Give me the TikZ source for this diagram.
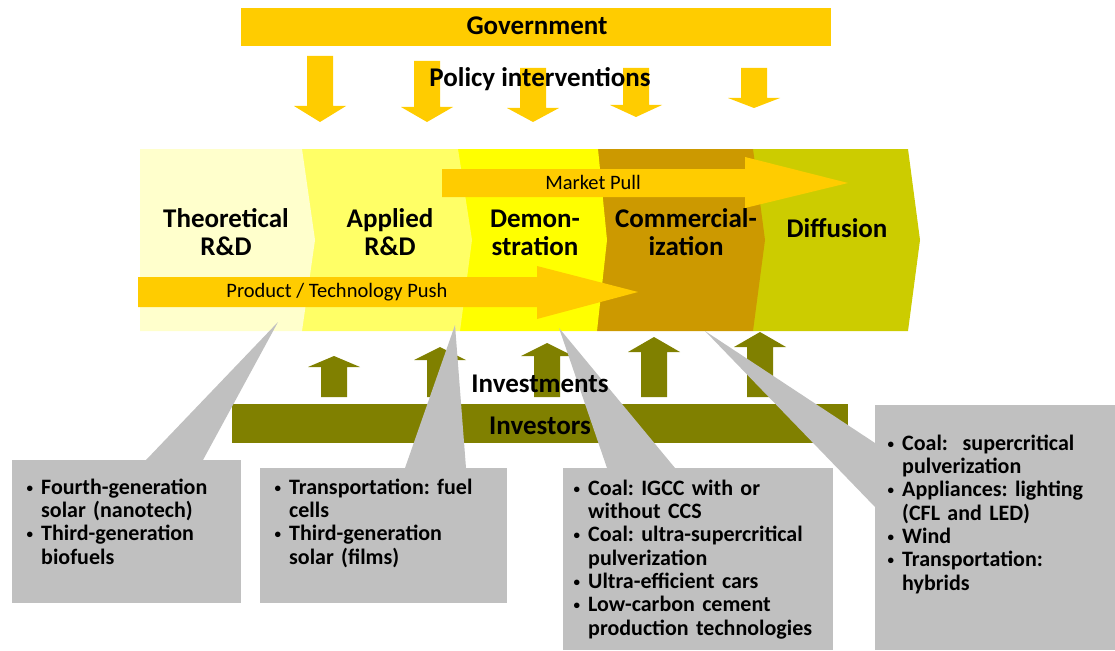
\documentclass[tikz,border=0pt]{standalone}
\usepackage{fontspec}
\setmainfont{Carlito}

\definecolor{govyellow}{HTML}{FFCC00}
\definecolor{investolive}{HTML}{808000}
\definecolor{calloutgrey}{HTML}{C0C0C0}
\definecolor{theocol}{HTML}{FFFFCC}
\definecolor{appliedcol}{HTML}{FFFF66}
\definecolor{democol}{HTML}{FFFF00}
\definecolor{commcol}{HTML}{CC9900}
\definecolor{diffcol}{HTML}{CCCC00}

\newcommand{\techdot}{\raisebox{2pt}{\fontsize{13}{13}\selectfont\textbullet}}
\newenvironment{techlist}{\frenchspacing\begin{list}{\techdot}{\setlength{\leftmargin}{15pt}%
  \setlength{\labelsep}{8pt}\setlength{\labelwidth}{7pt}\setlength{\itemsep}{0pt}%
  \setlength{\parsep}{0pt}\setlength{\topsep}{0pt}\setlength{\partopsep}{0pt}}}{\end{list}}

\begin{document}
\begin{tikzpicture}[x=1pt, y=-1pt,
    headtext/.style={font=\bfseries\fontsize{27}{28}\selectfont, inner sep=0pt, anchor=base},
    stagetext/.style={headtext, align=center},
    flowtext/.style={font=\fontsize{20.5}{22}\selectfont, inner sep=0pt, anchor=base},
    techs/.style={font=\bfseries\fontsize{22}{23.3}\selectfont, text width=270pt,
      align=left, inner sep=0pt, anchor=base west}]
  \useasboundingbox (0,0) rectangle (1115,650);
  % government and policy arrows
  \fill[govyellow] (241,8) rectangle (831,46);
  \node[headtext] (gov) at (537,35) {Government};
  \fill[govyellow] (307,56) |- (294,106) -- (320,122) -- (346,106) -| (333,56) -- cycle;
  \fill[govyellow] (414,61) |- (401,107) -- (427,122) -- (453,107) -| (440,61) -- cycle;
  \fill[govyellow] (520,68) |- (507,108) -- (533,122) -- (559,108) -| (546,68) -- cycle;
  \fill[govyellow] (623,68) |- (610,105) -- (636,117) -- (662,105) -| (649,68) -- cycle;
  \fill[govyellow] (741,68) |- (728,98) -- (754,108) -- (780,98) -| (767,68) -- cycle;
  \node[headtext] (policy) at (540,87) {Policy interventions};
  % stages
  \fill[diffcol] (753,149) -- (908,149) -- (920,240) -- (908,331) -- (753,331) -- cycle;
  \fill[commcol] (598,149) -- (753,149) -- (765,240) -- (753,331) -- (597,331) -- cycle;
  \fill[democol] (458,149) -- (598,149) -- (607,240) -- (597,331) -- (460,331) -- cycle;
  \fill[appliedcol] (302,149) -- (458,149) -- (472,240) -- (460,331) -- (302,331) -- cycle;
  \fill[theocol] (140,149) -- (302,149) -- (315,240) -- (302,331) -- (140,331) -- cycle;
  \fill[govyellow] (442,169) -- (745,169) -- (745,157) -- (848,183) -- (745,208) -- (745,197) -- (442,197) -- cycle;
  \node[flowtext] (pull) at (593,189) {Market Pull};
  \fill[govyellow] (138,277) -- (537,277) -- (537,266) -- (638,292) -- (537,319) -- (537,307) -- (138,307) -- cycle;
  \node[flowtext] (push) at (337,297) {Product / Technology Push};
  \node[stagetext] (theo) at (226,255) {Theoretical\\R\&D};
  \node[stagetext] (applied) at (390,255) {Applied\\R\&D};
  \node[stagetext] (demo) at (535,255) {Demon-\\stration};
  \node[stagetext] (comm) at (686,255) {Commercial-\\ization};
  \node[headtext] (diffusion) at (837,237) {Diffusion};
  % investments
  \fill[investolive] (321,397) |- (308,367) -- (334,356) -- (360,367) -| (347,397) -- cycle;
  \fill[investolive] (427,397) |- (414,360) -- (440,347) -- (466,360) -| (453,397) -- cycle;
  \fill[investolive] (534,397) |- (521,356) -- (547,343) -- (573,356) -| (560,397) -- cycle;
  \fill[investolive] (641,397) |- (628,352) -- (654,337) -- (680,352) -| (667,397) -- cycle;
  \fill[investolive] (747,397) |- (734,347) -- (760,332) -- (786,347) -| (773,397) -- cycle;
  \fill[investolive] (232,404) rectangle (848,443);
  % callouts
  \coordinate (tipA) at (278,322);
  \coordinate (tipB) at (455,325);
  \coordinate (tipC) at (559,328);
  \coordinate (tipD) at (705,331);
  \fill[calloutgrey] (tipA) -- (146,460) -- (203,460) -- cycle;
  \fill[calloutgrey] (12,460) rectangle (241,603);
  \fill[calloutgrey] (tipB) -- (405,468) -- (466,468) -- cycle;
  \fill[calloutgrey] (260,468) rectangle (507,603);
  \fill[calloutgrey] (tipC) -- (607,468) -- (675,468) -- cycle;
  \fill[calloutgrey] (563,468) rectangle (833,650);
  \fill[calloutgrey] (tipD) -- (875,443) -- (875,507) -- cycle;
  \fill[calloutgrey] (875,405) rectangle (1115,650);
  \node[headtext] (investments) at (540,392) {Investments};
  \node[headtext] (investors) at (540,434) {Investors};
  \node[techs] (techA) at (26,471) {\begin{techlist}
      \item Fourth-generation\\solar (nanotech)
      \item Third-generation\\biofuels
    \end{techlist}};
  \node[techs] (techB) at (274,471) {\begin{techlist}
      \item Transportation: fuel\\cells
      \item Third-generation\\solar (films)
    \end{techlist}};
  \node[techs] (techC) at (573,472) {\begin{techlist}
      \item Coal: IGCC with or\\without CCS
      \item Coal: ultra-supercritical\\pulverization
      \item Ultra-efficient cars
      \item Low-carbon cement\\production technologies
    \end{techlist}};
  \node[techs] (techD) at (887,427) {\begin{techlist}
      \item Coal:~ supercritical\\pulverization
      \item Appliances: lighting\\(CFL and LED)
      \item Wind
      \item Transportation:\\hybrids
    \end{techlist}};
\end{tikzpicture}
\end{document}
